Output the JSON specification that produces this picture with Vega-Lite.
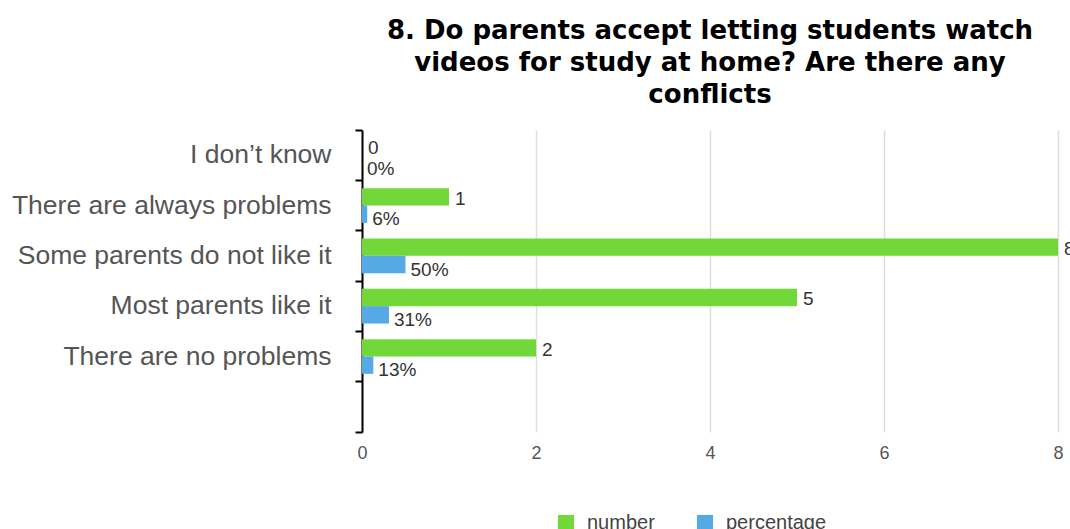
{
  "$schema": "https://vega.github.io/schema/vega-lite/v6.json",
  "autosize": {"type": "none"},
  "width": 696,
  "height": 302,
  "padding": {"left": 362, "top": 130, "right": 12, "bottom": 97},
  "background": "white",
  "title": {
    "text": ["8. Do parents accept letting students watch", "videos for study at home? Are there any", "conflicts"],
    "font": "DejaVu Sans",
    "fontSize": 26,
    "fontWeight": "bold",
    "color": "#000000",
    "anchor": "middle",
    "frame": "group",
    "lineHeight": 32,
    "offset": 9
  },
  "config": {
    "view": {"stroke": null},
    "font": "Liberation Sans"
  },
  "data": {
    "values": [
      {"answer": "I don’t know", "series": "number", "value": 0, "label": "0"},
      {"answer": "I don’t know", "series": "percentage", "value": 0, "label": "0%"},
      {"answer": "There are always problems", "series": "number", "value": 1, "label": "1"},
      {"answer": "There are always problems", "series": "percentage", "value": 0.06, "label": "6%"},
      {"answer": "Some parents do not like it", "series": "number", "value": 8, "label": "8"},
      {"answer": "Some parents do not like it", "series": "percentage", "value": 0.5, "label": "50%"},
      {"answer": "Most parents like it", "series": "number", "value": 5, "label": "5"},
      {"answer": "Most parents like it", "series": "percentage", "value": 0.31, "label": "31%"},
      {"answer": "There are no problems", "series": "number", "value": 2, "label": "2"},
      {"answer": "There are no problems", "series": "percentage", "value": 0.13, "label": "13%"}
    ]
  },
  "encoding": {
    "y": {
      "field": "answer",
      "type": "nominal",
      "sort": null,
      "scale": {
        "domain": ["I don’t know", "There are always problems", "Some parents do not like it", "Most parents like it", "There are no problems", " "],
        "paddingInner": 0,
        "paddingOuter": 0
      },
      "axis": {
        "title": null,
        "bandPosition": 1,
        "tickExtra": true,
        "labelOffset": 0,
        "tickSize": 7,
        "tickWidth": 2,
        "tickColor": "#000000",
        "domainColor": "#000000",
        "domainWidth": 2,
        "labelFont": "Liberation Sans",
        "labelFontSize": 26.5,
        "labelColor": "#555555",
        "labelPadding": 24,
        "labelLimit": 400
      }
    },
    "yOffset": {
      "field": "series",
      "type": "nominal",
      "scale": {"domain": ["number", "percentage"], "paddingInner": 0, "paddingOuter": 0.45}
    },
    "x": {
      "field": "value",
      "type": "quantitative",
      "scale": {"domain": [0, 8], "nice": false},
      "axis": {
        "title": null,
        "values": [0, 2, 4, 6, 8],
        "domain": false,
        "ticks": false,
        "grid": true,
        "gridColor": "#dddddd",
        "gridWidth": 1.5,
        "labelFlush": false,
        "labelFont": "Liberation Sans",
        "labelFontSize": 18,
        "labelColor": "#555555",
        "labelPadding": 12
      }
    }
  },
  "layer": [
    {
      "mark": {"type": "bar"},
      "encoding": {
        "color": {
          "field": "series",
          "type": "nominal",
          "scale": {"domain": ["number", "percentage"], "range": ["#72d83a", "#55aae6"]},
          "legend": {
            "title": null,
            "orient": "none",
            "legendX": 194,
            "legendY": 383,
            "direction": "horizontal",
            "symbolType": "square",
            "symbolSize": 260,
            "symbolStrokeWidth": 0,
            "labelFont": "Liberation Sans",
            "labelFontSize": 20,
            "labelColor": "#444444",
            "columnPadding": 40,
            "labelOffset": 11
          }
        }
      }
    },
    {
      "transform": [{"filter": "datum.series === 'number'"}],
      "mark": {"type": "text", "align": "left", "baseline": "middle", "dx": 6, "dy": 2, "fontSize": 19, "color": "#333333"},
      "encoding": {"text": {"field": "label"}}
    },
    {
      "transform": [{"filter": "datum.series === 'percentage'"}],
      "mark": {"type": "text", "align": "left", "baseline": "middle", "dx": 5, "dy": 5, "fontSize": 19, "color": "#333333"},
      "encoding": {"text": {"field": "label"}}
    }
  ]
}
